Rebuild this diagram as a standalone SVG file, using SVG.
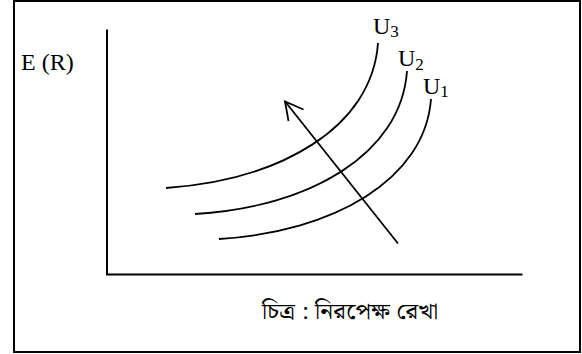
<svg xmlns="http://www.w3.org/2000/svg" width="582" height="354" viewBox="0 0 582 354">
  <style>
    .ln { fill: none; stroke: #000; stroke-width: 2; }
    .cv { fill: none; stroke: #000; stroke-width: 1.8; }
    .tm { font-family: "Liberation Serif", "Times New Roman", serif; fill: #000; }
    .lbl { font-size: 24px; }
    .sub { font-size: 17px; }
    .bn { font-family: "Noto Serif Bengali", "Noto Sans Bengali", "Lohit Bengali", "Noto Sans", sans-serif; font-size: 22px; fill: #000; }
  </style>
  <rect id="frame" x="14" y="1" width="566" height="351" fill="#fff" stroke="#000" stroke-width="2"/>
  <g id="axes">
    <path class="ln" d="M107,29.5 L107,274.5 L522.5,274.5"/>
    <text class="tm lbl" x="21" y="70">E (R)</text>
  </g>
  <g id="U3">
    <path class="cv" d="M166,188 C280,180 372,128 378,43"/>
    <text class="tm lbl" x="373" y="34">U<tspan class="sub" dy="3">3</tspan></text>
  </g>
  <g id="U2">
    <path class="cv" d="M195,214 C309,207 401,155 407,71"/>
    <text class="tm lbl" x="398" y="66">U<tspan class="sub" dy="4">2</tspan></text>
  </g>
  <g id="U1">
    <path class="cv" d="M219,239 C333,232 425,180 431,99"/>
    <text class="tm lbl" x="423" y="94">U<tspan class="sub" dy="3">1</tspan></text>
  </g>
  <g id="connectors">
    <path class="cv" d="M398,243.5 L285.5,102"/>
    <path class="cv" d="M303.5,109.5 L285,101.5 L288.5,121"/>
  </g>
  <g id="caption">
    <text class="bn" x="262" y="319" textLength="176" lengthAdjust="spacingAndGlyphs">চিত্র : নিরপেক্ষ রেখা</text>
  </g>
</svg>
